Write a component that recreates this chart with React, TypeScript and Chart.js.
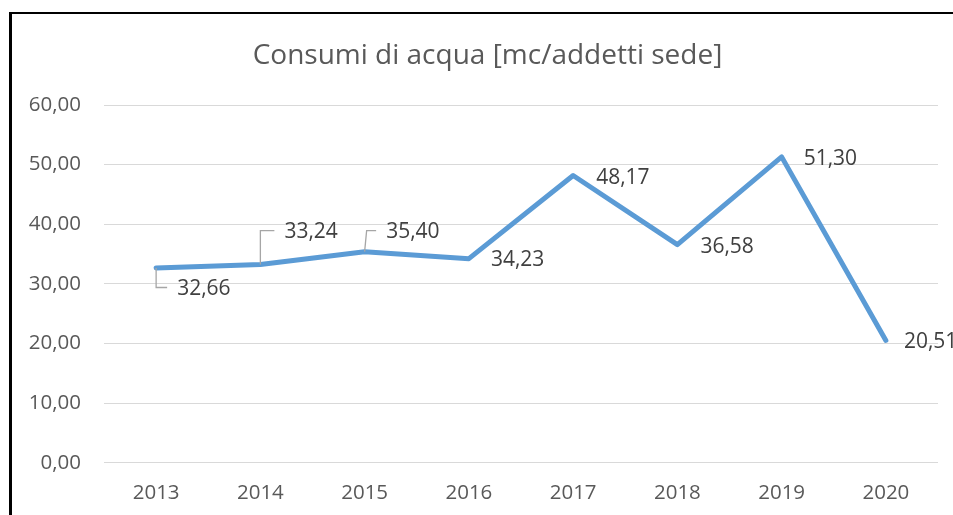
import React, { useEffect, useRef } from 'react';
import { Chart, registerables } from 'chart.js';

Chart.register(...registerables);

const categories = ['2013', '2014', '2015', '2016', '2017', '2018', '2019', '2020'];
const waterPerEmployee = [32.66, 33.24, 35.4, 34.23, 48.17, 36.58, 51.3, 20.51];
const yMin = 0;
const yMax = 60;
const yStep = 10;
const chartTitle = 'Consumi di acqua [mc/addetti sede]';

const FONT = "'Open Sans', 'Noto Sans', sans-serif";
const AXIS_COLOR = '#595959';
const LABEL_COLOR = '#404040';

const fmt = (v: number) => Number(v).toFixed(2).replace('.', ',');

// label placement relative to each point (style only)
const labelPlacement = [
  { dx: 21, dy: 19.5, leader: true, lean: 0 },
  { dx: 24, dy: -34, leader: true, lean: 0 },
  { dx: 21.5, dy: -21, leader: true, lean: 2 },
  { dx: 22, dy: 0 },
  { dx: 23, dy: 0.5 },
  { dx: 23, dy: 1 },
  { dx: 22, dy: 1 },
  { dx: 18, dy: 0.5 },
];

const titlePlugin = {
  id: 'manualTitle',
  afterDraw(chart: any) {
    const ctx = chart.ctx;
    ctx.save();
    ctx.font = `28px ${FONT}`;
    ctx.fillStyle = AXIS_COLOR;
    ctx.textAlign = 'center';
    ctx.textBaseline = 'alphabetic';
    ctx.fillText(chartTitle, 475.5, 49.5);
    ctx.restore();
  },
};

const dataLabelPlugin = {
  id: 'dataLabels',
  afterDatasetsDraw(chart: any) {
    const ctx = chart.ctx;
    const meta = chart.getDatasetMeta(0);
    const size = 21;
    ctx.save();
    meta.data.forEach((pt: any, i: number) => {
      const p = labelPlacement[i] || { dx: 22, dy: 0 };
      const px = pt.x;
      const py = pt.y;
      const tx = px + p.dx;
      const ty = py + p.dy;
      if ((p as any).leader) {
        ctx.strokeStyle = '#A6A6A6';
        ctx.lineWidth = 1.3;
        ctx.beginPath();
        ctx.moveTo(px, py);
        ctx.lineTo(px + ((p as any).lean || 0), ty);
        ctx.lineTo(tx - 10, ty);
        ctx.stroke();
      }
      ctx.font = `${size}px ${FONT}`;
      ctx.fillStyle = LABEL_COLOR;
      ctx.textAlign = 'left';
      ctx.textBaseline = 'alphabetic';
      ctx.fillText(fmt(waterPerEmployee[i]), tx, ty + 0.357 * size);
    });
    ctx.restore();
  },
};

export default function App() {
  const canvasRef = useRef<HTMLCanvasElement | null>(null);

  useEffect(() => {
    if (!canvasRef.current) return;
    const chart = new Chart(canvasRef.current, {
      type: 'line',
      data: {
        labels: categories,
        datasets: [
          {
            data: waterPerEmployee,
            borderColor: '#5B9BD5',
            backgroundColor: '#5B9BD5',
            borderWidth: 5,
            pointRadius: 0,
            tension: 0,
            borderJoinStyle: 'round',
            borderCapStyle: 'round',
            fill: false,
          },
        ],
      },
      options: {
        responsive: false,
        maintainAspectRatio: false,
        animation: false,
        layout: { padding: { left: 0, right: 25, top: 91, bottom: 10.3 } },
        plugins: {
          legend: { display: false },
          title: { display: false },
          tooltip: { enabled: false },
        },
        scales: {
          x: {
            type: 'category',
            offset: true,
            grid: { display: false, drawTicks: false },
            border: { display: false },
            ticks: {
              color: AXIS_COLOR,
              font: { family: FONT, size: 20.5 },
              padding: 18,
              maxRotation: 0,
              autoSkip: false,
            },
            afterFit: (s: any) => {
              s.height = 42;
            },
          },
          y: {
            min: yMin,
            max: yMax,
            ticks: {
              stepSize: yStep,
              callback: (v: any) => fmt(v),
              color: AXIS_COLOR,
              font: { family: FONT, size: 20.5 },
              padding: 23,
            },
            grid: { color: '#D9D9D9', lineWidth: 1, drawTicks: false },
            border: { display: false },
            afterFit: (s: any) => {
              s.width = 92;
            },
          },
        },
      },
      plugins: [titlePlugin, dataLabelPlugin],
    } as any);
    return () => chart.destroy();
  }, []);

  return (
    <div
      style={{
        position: 'absolute',
        left: 0,
        top: 0,
        width: 953,
        height: 515,
        overflow: 'hidden',
        background: '#fff',
      }}
    >
      <div
        style={{
          position: 'absolute',
          left: 9,
          top: 12,
          width: 1100,
          height: 600,
          borderLeft: '3px solid #000',
          borderTop: '2px solid #000',
        }}
      />
      <div style={{ position: 'absolute', left: 12, top: 14, width: 951, height: 501 }}>
        <canvas ref={canvasRef} width={951} height={501} style={{ display: 'block' }} />
      </div>
    </div>
  );
}
